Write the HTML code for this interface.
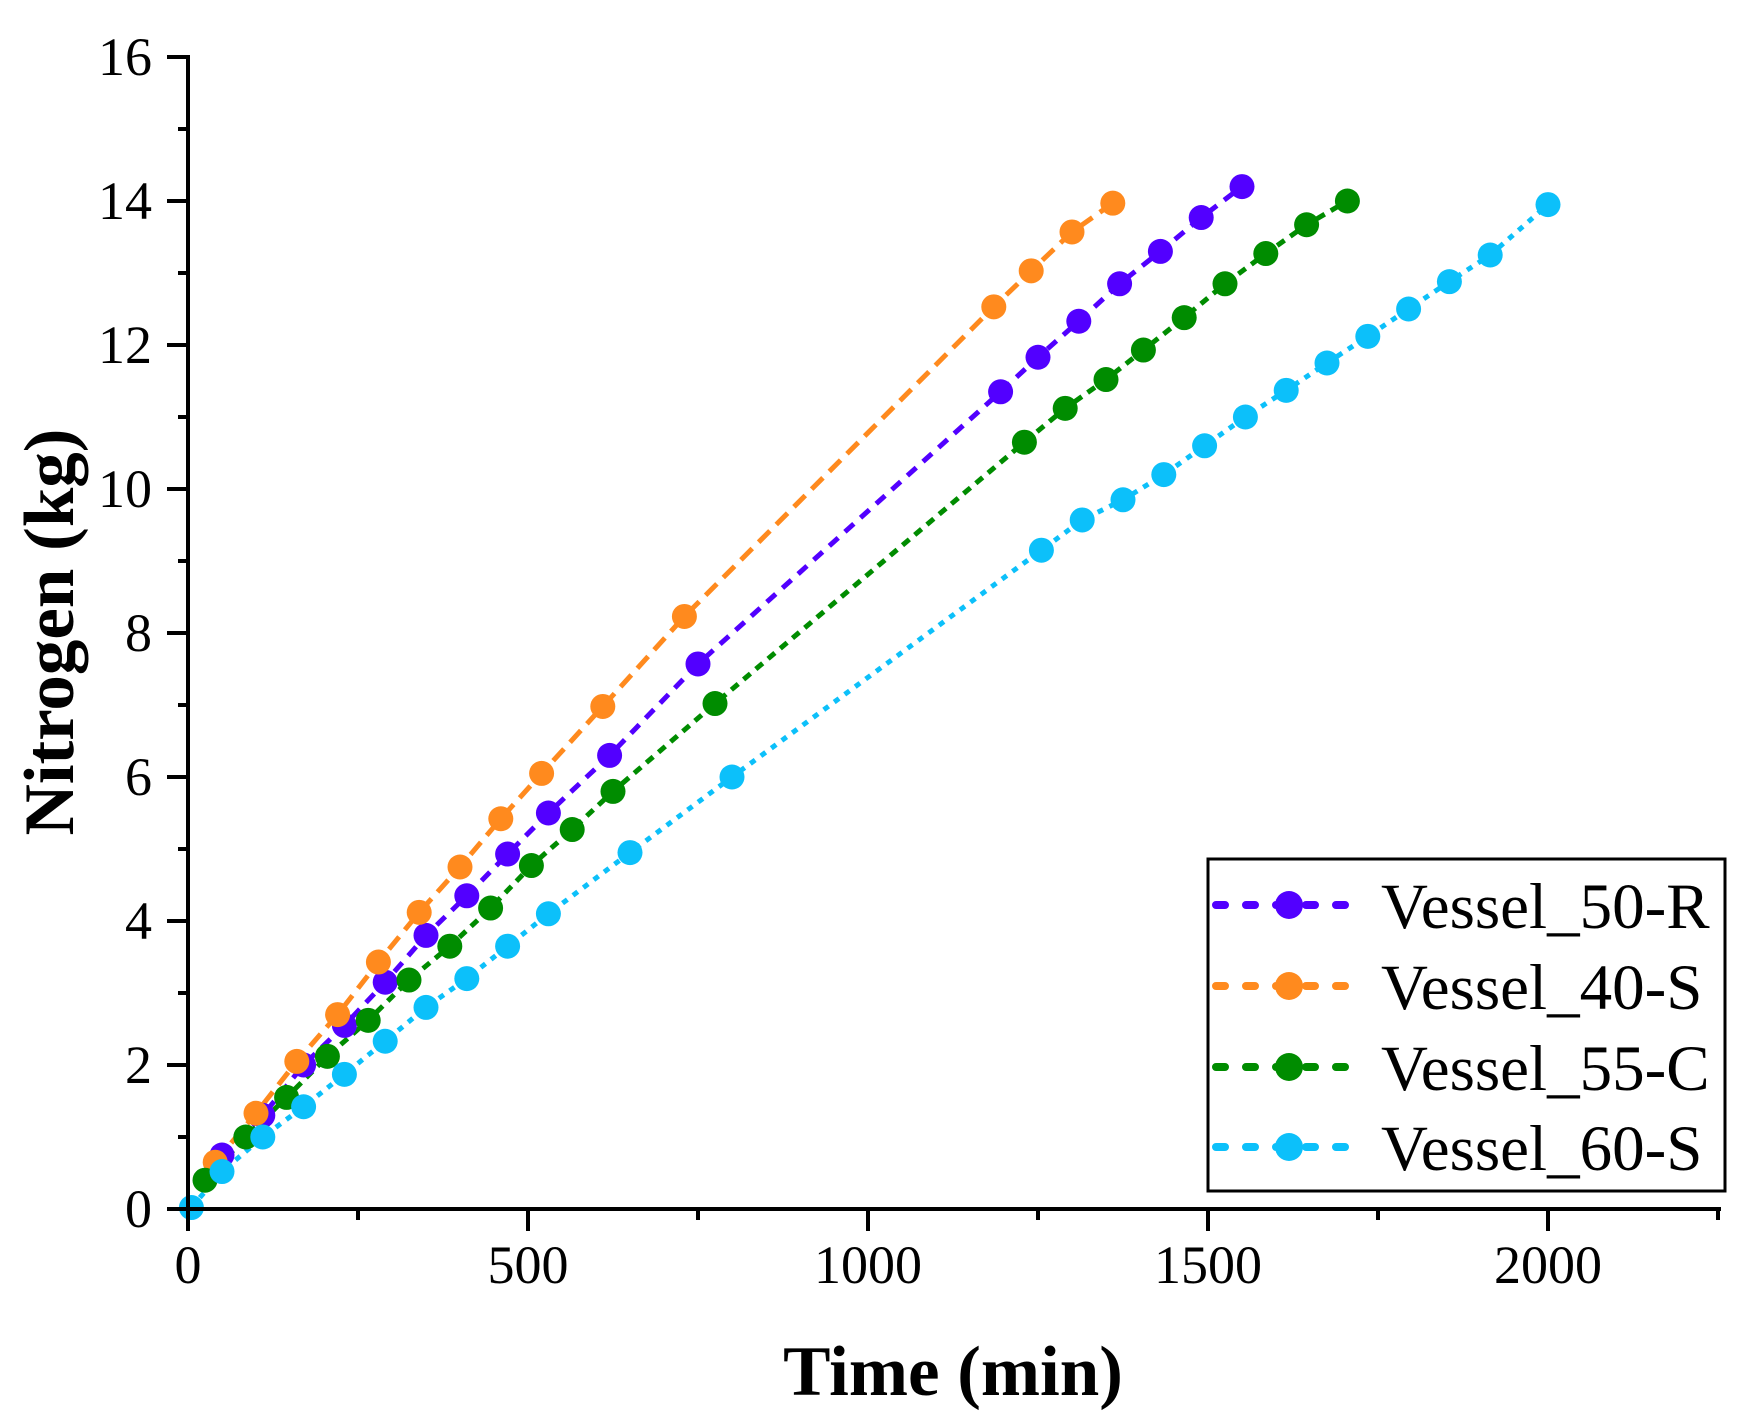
<!DOCTYPE html>
<html><head><meta charset="utf-8"><style>
html,body{margin:0;padding:0;background:#fff}
svg text{font-family:"Liberation Serif",serif;fill:#000}
</style></head><body>
<svg id="s" width="1750" height="1420" xmlns="http://www.w3.org/2000/svg">
<g id="plot"></g>
<g id="axes" stroke="#000" stroke-width="4" fill="none">
<line x1="188" y1="55" x2="188" y2="1211"/>
<line x1="186" y1="1209" x2="1721" y2="1209"/>
</g>
<g id="ticks" stroke="#000" stroke-width="4"></g>
<g id="labels" font-size="54"></g>
<text x="953" y="1395" font-size="71" font-weight="bold" text-anchor="middle">Time (min)</text>
<text transform="translate(73,632) rotate(-90)" font-size="71" font-weight="bold" text-anchor="middle">Nitrogen (kg)</text>
<rect x="1208" y="859" width="517" height="332" fill="#fff" stroke="#000" stroke-width="3"/>
<g id="legend"></g>
</svg>
<script>
const X=t=>188+0.68*t, Y=v=>1209-72*v;
const ns="http://www.w3.org/2000/svg";
function el(p,n,a,txt){const e=document.createElementNS(ns,n);for(const k in a)e.setAttribute(k,a[k]);if(txt)e.textContent=txt;p.appendChild(e);return e;}
const tk=document.getElementById('ticks'),lb=document.getElementById('labels');
for(let v=0;v<=16;v++){const y=Y(v);el(tk,'line',{x1:v%2?178:167,y1:y,x2:188,y2:y});
 if(v%2==0)el(lb,'text',{x:152,y:y+18,'text-anchor':'end'},String(v));}
for(let t=0;t<=2250;t+=250){const x=X(t);el(tk,'line',{x1:x,y1:1209,x2:x,y2:t%500?1220:1231});
 if(t%500==0)el(lb,'text',{x:x,y:1283,'text-anchor':'middle'},String(t));}
const S=[
{c:'#5200ff',d:'12 9',n:'Vessel_50-R',p:[[50,.75],[110,1.3],[170,2],[230,2.55],[290,3.15],[350,3.8],[410,4.35],[470,4.93],[530,5.5],[620,6.3],[750,7.57],[1195,11.35],[1250,11.83],[1310,12.33],[1370,12.85],[1430,13.3],[1490,13.77],[1550,14.2]]},
{c:'#ff8a1e',d:'16 9',n:'Vessel_40-S',p:[[40,.65],[100,1.33],[160,2.05],[220,2.7],[280,3.43],[340,4.12],[400,4.75],[460,5.42],[520,6.05],[610,6.98],[730,8.23],[1185,12.53],[1240,13.03],[1300,13.57],[1360,13.97]]},
{c:'#008c00',d:'9 7',n:'Vessel_55-C',p:[[25,.4],[85,1],[145,1.55],[205,2.12],[265,2.62],[325,3.18],[385,3.65],[445,4.18],[505,4.77],[565,5.27],[625,5.8],[775,7.02],[1230,10.65],[1290,11.12],[1350,11.52],[1405,11.93],[1465,12.38],[1525,12.85],[1585,13.27],[1645,13.67],[1705,14]]},
{c:'#0cc0fa',d:'6 7',n:'Vessel_60-S',p:[[5,.02],[50,.52],[110,1],[170,1.42],[230,1.87],[290,2.33],[350,2.8],[410,3.2],[470,3.65],[530,4.1],[650,4.95],[800,6],[1255,9.15],[1315,9.57],[1375,9.85],[1435,10.2],[1495,10.6],[1555,11],[1615,11.37],[1675,11.75],[1735,12.12],[1795,12.5],[1855,12.88],[1915,13.25],[2000,13.95]]}];
const pl=document.getElementById('plot'),lg=document.getElementById('legend');
const rows=[905,986,1067,1147];
S.forEach((s,i)=>{
 el(pl,'polyline',{points:s.p.map(q=>X(q[0])+','+Y(q[1])).join(' '),fill:'none',stroke:s.c,'stroke-width':5,'stroke-dasharray':s.d});
});
S.forEach(s=>{s.p.forEach(q=>el(pl,'circle',{cx:X(q[0]),cy:Y(q[1]),r:12.5,fill:s.c}));});
S.forEach((s,i)=>{const y=rows[i];
 el(lg,'line',{x1:1216,y1:y,x2:1348,y2:y,stroke:s.c,'stroke-width':8,'stroke-linecap':'round','stroke-dasharray':'9 21'});
 el(lg,'circle',{cx:1289,cy:y,r:14,fill:s.c});
 el(lg,'text',{x:1381,y:y+23,'font-size':65},s.n);});
</script>
</body></html>
